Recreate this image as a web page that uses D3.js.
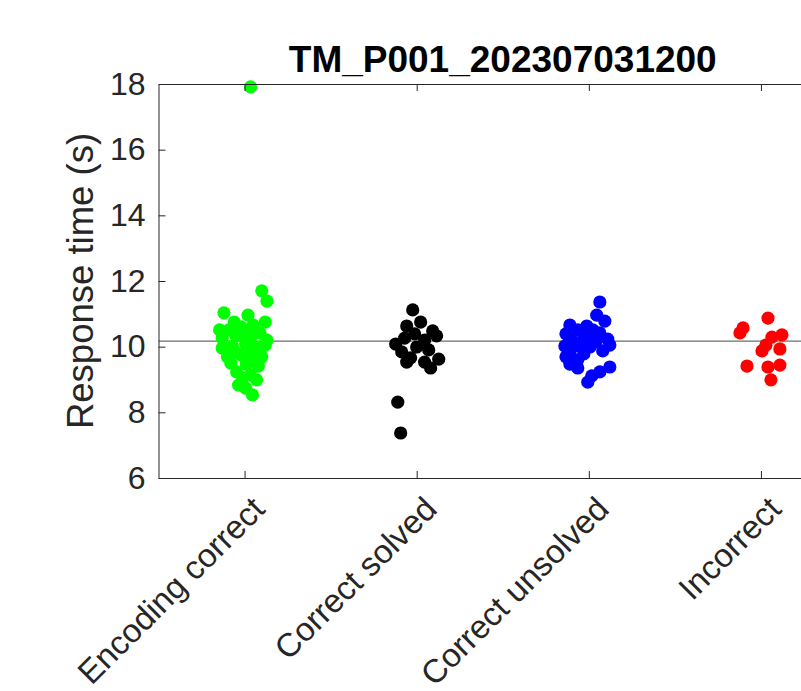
<!DOCTYPE html>
<html>
<head>
<meta charset="utf-8">
<script src="https://cdn.jsdelivr.net/npm/d3@7"></script>
<style>
  html, body { margin: 0; padding: 0; background: #fff; }
  svg { display: block; }
  text { font-family: "Liberation Sans", Arial, Helvetica, sans-serif; }
</style>
</head>
<body>
<svg id="chart" width="801" height="691"></svg>
<script>
const title = "TM_P001_202307031200";
const yLabel = "Response time (s)";
const categories = ["Encoding correct", "Correct solved", "Correct unsolved", "Incorrect"];
const colors = ["#00ff00", "#000000", "#0000ff", "#ff0000"];
const yTicks = [6, 8, 10, 12, 14, 16, 18];
const meanLine = 10.17;

// values (s) and horizontal jitter (category units) per group
const encodingValues = [17.91, 11.70, 11.39, 11.03, 10.96, 10.75, 10.75, 10.51, 10.60, 10.66, 10.26, 10.33, 10.26, 10.42, 9.96, 10.02, 10.08, 9.99, 10.05, 9.69, 9.75, 9.78, 9.69, 9.50, 9.47, 9.41, 9.23, 9.14, 9.05, 8.99, 8.83, 8.74, 8.53, 10.51, 10.51, 9.84, 9.60, 10.20, 10.40, 9.90];
const encodingJitter = [0.035, 0.10, 0.13, -0.12, 0.02, 0.12, -0.06, -0.09, -0.02, 0.05, -0.13, -0.05, 0.035, 0.09, -0.13, -0.07, 0.006, 0.075, 0.12, -0.10, -0.02, 0.046, 0.10, -0.08, 0.01, 0.08, -0.046, 0.035, -0.01, 0.07, -0.035, 0.006, 0.046, -0.145, 0.023, -0.058, 0.064, 0.13, -0.02, 0.03];

const solvedValues = [11.12, 10.75, 10.63, 10.48, 10.33, 10.39, 10.26, 10.20, 10.08, 9.99, 9.90, 9.84, 9.66, 9.62, 9.53, 9.35, 9.53, 8.31, 7.37];
const solvedJitter = [-0.023, 0.023, -0.058, 0.093, 0.116, -0.012, -0.07, 0.046, -0.122, 0.0, 0.07, -0.087, -0.035, 0.128, 0.046, 0.081, -0.058, -0.11, -0.093];

const unsolvedValues = [11.36, 10.96, 10.78, 10.66, 10.63, 10.51, 10.51, 10.39, 10.42, 10.23, 10.26, 10.20, 10.14, 10.02, 10.02, 9.99, 10.05, 9.87, 9.84, 9.78, 9.69, 9.60, 9.47, 9.35, 9.38, 9.23, 9.11, 8.92, 10.26];
const unsolvedJitter = [0.064, 0.046, 0.093, -0.11, -0.012, -0.064, 0.023, -0.133, 0.064, 0.11, -0.029, -0.099, 0.041, -0.139, -0.064, 0.006, 0.122, 0.081, -0.11, -0.029, -0.133, -0.064, -0.11, -0.064, 0.122, 0.064, 0.017, -0.006, 0.017];

const incorrectValues = [10.87, 10.57, 10.42, 10.29, 10.36, 10.05, 9.87, 9.93, 9.41, 9.38, 9.44, 8.99];
const incorrectJitter = [0.041, -0.104, -0.122, 0.064, 0.122, 0.029, 0.006, 0.11, -0.081, 0.041, 0.11, 0.058];

const groups = [
  { values: encodingValues, jitter: encodingJitter },
  { values: solvedValues, jitter: solvedJitter },
  { values: unsolvedValues, jitter: unsolvedJitter },
  { values: incorrectValues, jitter: incorrectJitter }
];

const svg = d3.select("#chart");
const axisColor = "#262626";

const x = d3.scaleLinear().domain([0.5, 4.5]).range([158.5, 847]);
const y = d3.scaleLinear().domain([6, 18]).range([478, 84]);

// mean line
svg.append("line")
  .attr("x1", x(0.5)).attr("x2", x(4.5))
  .attr("y1", y(meanLine)).attr("y2", y(meanLine))
  .attr("stroke", "#6e6e6e").attr("stroke-width", 1.2);

// points
groups.forEach((g, gi) => {
  const pts = g.values.map((v, i) => ({ v, j: g.jitter[i], c: gi + 1 }));
  svg.append("g").selectAll("circle").data(pts).join("circle")
    .attr("cx", d => x(d.c + d.j))
    .attr("cy", d => y(d.v))
    .attr("r", 6.6)
    .attr("fill", colors[gi]);
});

// axes
const tickLen = 7;
const gy = svg.append("g").attr("transform", `translate(${x(0.5)},0)`)
  .call(d3.axisLeft(y).tickValues(yTicks).tickSizeInner(-tickLen).tickSizeOuter(0).tickPadding(13).tickFormat(d3.format("d")));
const gb = svg.append("g").attr("transform", `translate(0,${y(6)})`)
  .call(d3.axisBottom(x).tickValues([1, 2, 3, 4]).tickSizeInner(-tickLen).tickSizeOuter(0).tickFormat(""));
const gt = svg.append("g").attr("transform", `translate(0,${y(18)})`)
  .call(d3.axisTop(x).tickValues([1, 2, 3, 4]).tickSizeInner(-tickLen).tickSizeOuter(0).tickFormat(""));

[gy, gb, gt].forEach(g => {
  g.selectAll(".domain").attr("stroke", axisColor).attr("stroke-width", 1);
  g.selectAll(".tick line").attr("stroke", axisColor).attr("stroke-width", 1);
});
gy.selectAll(".tick text")
  .attr("font-size", 32).attr("fill", axisColor)
  .attr("font-family", "'Liberation Sans', Arial, sans-serif");

// rotated category labels
svg.append("g").selectAll("text").data(categories).join("text")
  .attr("transform", (d, i) => `translate(${x(i + 1) + 22},${y(6) + 33}) rotate(-45)`)
  .attr("text-anchor", "end")
  .attr("font-size", 33)
  .attr("fill", axisColor)
  .text(d => d);

// y label
svg.append("text")
  .attr("transform", `translate(93,${(y(6) + y(18)) / 2}) rotate(-90)`)
  .attr("text-anchor", "middle")
  .attr("font-size", 36.5)
  .attr("fill", axisColor)
  .text(yLabel);

// title
svg.append("text")
  .attr("x", (x(0.5) + x(4.5)) / 2)
  .attr("y", 72)
  .attr("text-anchor", "middle")
  .attr("font-size", 37)
  .attr("font-weight", "bold")
  .attr("fill", "#000")
  .text(title);
</script>
</body>
</html>
